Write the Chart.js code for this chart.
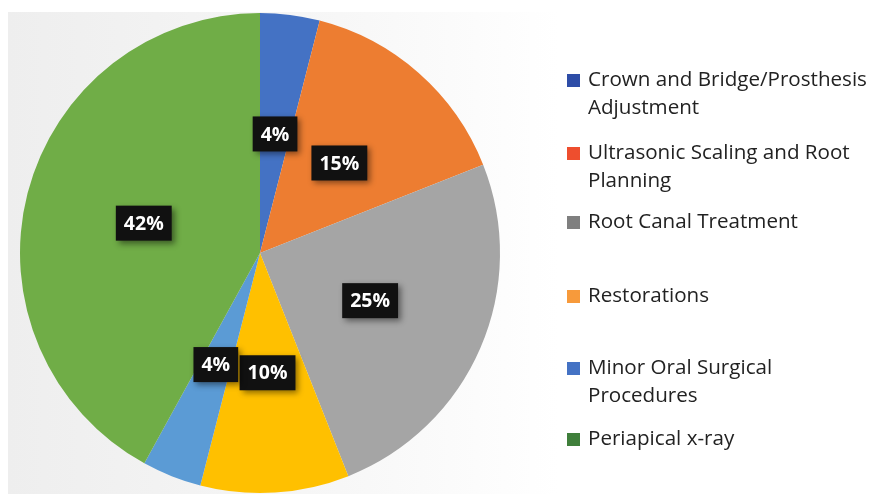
<!DOCTYPE html>
<html><head><meta charset="utf-8">
<script src="https://cdn.jsdelivr.net/npm/chart.js@4"></script>
<style>html,body{margin:0;padding:0;background:#fff;}#wrap{position:relative;width:872px;height:494px;}</style>
</head><body><div id="wrap"><canvas id="c" width="872" height="494"></canvas></div>
<script>
const categories = ["Crown and Bridge/Prosthesis Adjustment","Ultrasonic Scaling and Root Planning","Root Canal Treatment","Restorations","Minor Oral Surgical Procedures","Periapical x-ray"];
const legendLines = [["Crown and Bridge/Prosthesis","Adjustment"],["Ultrasonic Scaling and Root","Planning"],["Root Canal Treatment"],["Restorations"],["Minor Oral Surgical","Procedures"],["Periapical x-ray"]];
const values = [4,15,25,10,4,42];
const sliceColors = ["#4472C4","#ED7D31","#A5A5A5","#FFC000","#5B9BD5","#70AD47"];
const legendColors = ["#2E4DA7","#EE4E2E","#7F7F7F","#F79A3B","#4472C4","#3F7F3B"];
const legendY = [80,153,222,296,368,439];

const bgPlugin = {id:'bg', beforeDraw(chart){
  const ctx = chart.ctx; ctx.save();
  ctx.fillStyle = '#fff'; ctx.fillRect(0,0,chart.width,chart.height);
  const g = ctx.createLinearGradient(8,0,560,0);
  g.addColorStop(0,'#eeeeee'); g.addColorStop(0.6,'#f7f7f7'); g.addColorStop(1,'#ffffff');
  ctx.fillStyle = g; ctx.fillRect(8,12,552,482);
  ctx.restore();
}};

const labelPlugin = {id:'lbl', afterDatasetsDraw(chart){
  const ctx = chart.ctx; const meta = chart.getDatasetMeta(0);
  const total = values.reduce((a,b)=>a+b,0);
  ctx.save();
  ctx.font = 'bold 19.5px "Open Sans", sans-serif';
  ctx.textAlign='center'; ctx.textBaseline='middle';
  meta.data.forEach((arc,i)=>{
    const p = arc.tooltipPosition();
    const txt = Math.round(values[i]/total*100)+'%';
    const w = ctx.measureText(txt).width + 16, h = 35;
    ctx.save();
    ctx.shadowColor='rgba(0,0,0,0.45)'; ctx.shadowBlur=6; ctx.shadowOffsetX=3; ctx.shadowOffsetY=3;
    ctx.fillStyle='#111'; ctx.fillRect(p.x-w/2,p.y-h/2,w,h);
    ctx.restore();
    ctx.fillStyle='#fff'; ctx.fillText(txt,p.x,p.y+1);
  });
  // legend
  ctx.textAlign='left'; ctx.textBaseline='middle';
  ctx.font = '20.6px "Open Sans", sans-serif';
  legendLines.forEach((lines,i)=>{
    const y = legendY[i];
    ctx.fillStyle = legendColors[i]; ctx.fillRect(567,y-6,13,13);
    ctx.fillStyle = '#222';
    lines.forEach((t,j)=>ctx.fillText(t,588,y+j*28));
  });
  ctx.restore();
}};

new Chart(document.getElementById('c'),{
  type:'pie',
  data:{labels:categories,datasets:[{data:values,backgroundColor:sliceColors,borderWidth:0}]},
  options:{responsive:false,animation:false,
    layout:{padding:{left:20,right:372,top:13,bottom:1}},
    plugins:{legend:{display:false},tooltip:{enabled:false}}},
  plugins:[bgPlugin,labelPlugin]
});
</script></body></html>
